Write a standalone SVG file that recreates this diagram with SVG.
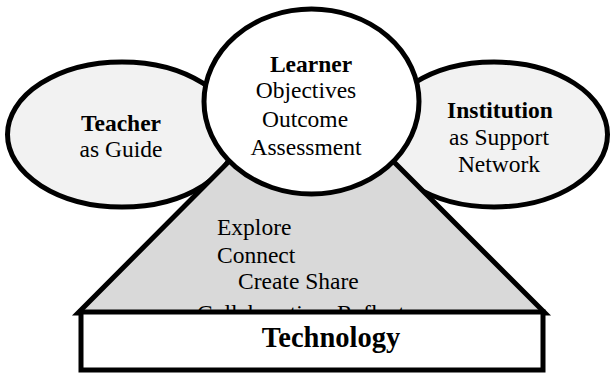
<svg xmlns="http://www.w3.org/2000/svg" width="611" height="374" viewBox="0 0 611 374">
<style>
.sh{stroke:#000;stroke-width:5}
.ell{fill:#f2f2f2}
.t{font-family:"Liberation Serif","Times New Roman",serif;font-size:23.5px;fill:#000}
.b{font-weight:bold}
</style>
<rect width="611" height="374" fill="#fff"/>
<g id="teacher">
<ellipse class="sh ell" cx="122" cy="134.5" rx="114.5" ry="72.5"/>
<text class="t" text-anchor="middle"><tspan class="b" x="121" y="131">Teacher</tspan><tspan x="121" y="157">as Guide</tspan></text>
</g>
<g id="institution">
<ellipse class="sh ell" cx="494" cy="134.5" rx="113.5" ry="72.5"/>
<text class="t" text-anchor="middle"><tspan class="b" x="500" y="118">Institution</tspan><tspan x="499" y="145">as Support</tspan><tspan x="499" y="172">Network</tspan></text>
</g>
<g id="activities">
<polygon class="sh" fill="#d9d9d9" stroke-linejoin="miter" points="311,79 78,313 545,313"/>
<text class="t"><tspan x="217" y="235">Explore</tspan><tspan x="217" y="263">Connect</tspan><tspan x="238" y="289">Create Share</tspan><tspan x="197" y="320.5">Collaboration</tspan><tspan x="337" y="320.5">Reflect</tspan></text>
</g>
<g id="learner">
<ellipse class="sh" fill="#fff" cx="311.5" cy="101.5" rx="107.5" ry="92.5"/>
<text class="t" text-anchor="middle"><tspan class="b" x="311" y="72">Learner</tspan><tspan x="306" y="98">Objectives</tspan><tspan x="305" y="127">Outcome</tspan><tspan x="306" y="155">Assessment</tspan></text>
</g>
<g id="technology">
<rect class="sh" fill="#fff" x="81" y="312" width="462" height="58"/>
<text class="t b" style="font-size:28.5px" x="331" y="347" text-anchor="middle">Technology</text>
</g>
<g id="connectors"></g>
</svg>
